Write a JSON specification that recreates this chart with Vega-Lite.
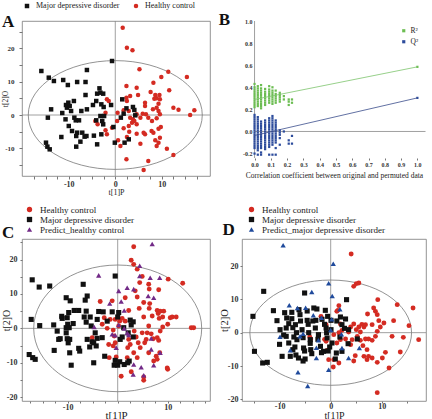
{
"$schema":"https://vega.github.io/schema/vega-lite/v6.json",
"padding":{"left":0,"top":1,"right":0,"bottom":0},
"background":"white",
"columns":2,
"spacing":{"row":63,"column":32},
"bounds":"flush",
"resolve":{"scale":{"color":"independent","shape":"independent","stroke":"independent"},"legend":{"color":"independent","shape":"independent"}},
"config":{
"font":"Liberation Serif",
"view":{"stroke":"#777","strokeWidth":0.8},
"axis":{"grid":false,"domain":false,"labelFont":"Liberation Serif","titleFont":"Liberation Serif","labelFontWeight":"bold","labelColor":"#333","titleColor":"#222","titleFontWeight":"normal","tickColor":"#777","tickSize":2,"labelOverlap":false,"labelFlush":false},
"legend":{"labelFont":"Liberation Serif","labelColor":"#222"}
},
"datasets":{
"A":[
{"x":1.6,"y":26.2,"g":"H"},{"x":2.5,"y":20.2,"g":"H"},{"x":3.7,"y":19.4,"g":"H"},{"x":5.2,"y":13.7,"g":"H"},{"x":11.4,"y":13,"g":"H"},{"x":15.4,"y":11.4,"g":"H"},{"x":8.2,"y":9.7,"g":"H"},{"x":9.9,"y":11.4,"g":"H"},{"x":11.6,"y":7.4,"g":"H"},{"x":2.4,"y":8.7,"g":"H"},{"x":4.6,"y":8.2,"g":"H"},{"x":7.6,"y":6.9,"g":"H"},{"x":8.6,"y":6,"g":"H"},{"x":9.5,"y":6,"g":"H"},{"x":4.9,"y":6,"g":"H"},{"x":2.4,"y":5.2,"g":"H"},{"x":6.4,"y":3.7,"g":"H"},{"x":8.4,"y":4.9,"g":"H"},{"x":8.9,"y":5,"g":"H"},{"x":12.5,"y":2.2,"g":"H"},{"x":13.6,"y":1.6,"g":"H"},{"x":17,"y":1.4,"g":"H"},{"x":16.1,"y":0,"g":"H"},{"x":8.9,"y":2.2,"g":"H"},{"x":9.3,"y":1.2,"g":"H"},{"x":9.6,"y":0.2,"g":"H"},{"x":8.9,"y":-1,"g":"H"},{"x":9.8,"y":-3.6,"g":"H"},{"x":9.3,"y":-4.1,"g":"H"},{"x":7.8,"y":-4.8,"g":"H"},{"x":8.2,"y":-5.3,"g":"H"},{"x":8.6,"y":-7.6,"g":"H"},{"x":9.3,"y":-8.3,"g":"H"},{"x":8.9,"y":-9.3,"g":"H"},{"x":11.1,"y":-10.1,"g":"H"},{"x":12.5,"y":-12,"g":"H"},{"x":9.6,"y":-6.8,"g":"H"},{"x":5.4,"y":-8.6,"g":"H"},{"x":6.4,"y":-5.8,"g":"H"},{"x":6.1,"y":-5.3,"g":"H"},{"x":4.6,"y":-5.6,"g":"H"},{"x":3,"y":-5,"g":"H"},{"x":2.5,"y":-6.6,"g":"H"},{"x":1.1,"y":-9.3,"g":"H"},{"x":0.6,"y":-7.6,"g":"H"},{"x":2.4,"y":-13.3,"g":"H"},{"x":6.1,"y":-16.5,"g":"H"},{"x":7.1,"y":-13.8,"g":"H"},{"x":-1.8,"y":4.7,"g":"H"},{"x":-1.4,"y":4.2,"g":"H"},{"x":-2.1,"y":0.7,"g":"H"},{"x":-4.3,"y":-1.8,"g":"H"},{"x":-3.8,"y":-2.8,"g":"H"},{"x":-2.1,"y":-4.6,"g":"H"},{"x":-1.8,"y":-5.8,"g":"H"},{"x":-0.7,"y":-3.8,"g":"H"},{"x":0.4,"y":-1.8,"g":"H"},{"x":0.5,"y":0.7,"g":"H"},{"x":1.8,"y":1.4,"g":"H"},{"x":2.9,"y":1.2,"g":"H"},{"x":3.2,"y":-0.8,"g":"H"},{"x":3.8,"y":-1.3,"g":"H"},{"x":4.1,"y":-1.8,"g":"H"},{"x":3.6,"y":-2.3,"g":"H"},{"x":1.8,"y":-4,"g":"H"},{"x":2.9,"y":-3.3,"g":"H"},{"x":4.6,"y":-2.8,"g":"H"},{"x":5.4,"y":-0.8,"g":"H"},{"x":5.9,"y":0.4,"g":"H"},{"x":6.6,"y":0.2,"g":"H"},{"x":7.1,"y":-0.8,"g":"H"},{"x":7.9,"y":-1.8,"g":"H"},{"x":6.4,"y":2.7,"g":"H"},{"x":8.1,"y":1.7,"g":"H"},{"x":4.6,"y":0.2,"g":"H"},{"x":9.3,"y":3.4,"g":"H"},{"x":9.6,"y":4.7,"g":"H"},{"x":2.5,"y":4.2,"g":"H"},{"x":3.2,"y":5.7,"g":"H"},
{"x":-15.9,"y":13.2,"g":"M"},{"x":-14.3,"y":11.2,"g":"M"},{"x":-13.2,"y":10.2,"g":"M"},{"x":-11.2,"y":10.5,"g":"M"},{"x":-10.2,"y":9,"g":"M"},{"x":-8.2,"y":9.9,"g":"M"},{"x":-6.1,"y":13.5,"g":"M"},{"x":-6.4,"y":9.9,"g":"M"},{"x":-0.7,"y":16.2,"g":"M"},{"x":-13.8,"y":1.7,"g":"M"},{"x":-14.5,"y":-0.8,"g":"M"},{"x":-14.9,"y":-8.3,"g":"M"},{"x":-14.6,"y":-9.5,"g":"M"},{"x":-14.1,"y":-10.3,"g":"M"},{"x":-11.6,"y":-6.6,"g":"M"},{"x":-11.4,"y":0.6,"g":"M"},{"x":-10.6,"y":3,"g":"M"},{"x":-10.1,"y":3.7,"g":"M"},{"x":-10.4,"y":2.2,"g":"M"},{"x":-9.8,"y":2.7,"g":"M"},{"x":-9.5,"y":1.2,"g":"M"},{"x":-8.9,"y":4.2,"g":"M"},{"x":-10.7,"y":-1.3,"g":"M"},{"x":-10,"y":-3.3,"g":"M"},{"x":-9.3,"y":-4.8,"g":"M"},{"x":-8.8,"y":-0.8,"g":"M"},{"x":-8.5,"y":-1.6,"g":"M"},{"x":-8.2,"y":-5.3,"g":"M"},{"x":-8.4,"y":-6.3,"g":"M"},{"x":-7.8,"y":-1.6,"g":"M"},{"x":-7.3,"y":1.2,"g":"M"},{"x":-7.1,"y":-5.3,"g":"M"},{"x":-6.6,"y":-6.5,"g":"M"},{"x":-6.2,"y":-6.3,"g":"M"},{"x":-7.5,"y":-8,"g":"M"},{"x":-8.4,"y":-9.5,"g":"M"},{"x":-6.4,"y":6,"g":"M"},{"x":-6.1,"y":1.7,"g":"M"},{"x":-4.8,"y":3,"g":"M"},{"x":-4.1,"y":4.2,"g":"M"},{"x":-3.9,"y":6.4,"g":"M"},{"x":-3.2,"y":6.7,"g":"M"},{"x":-2.6,"y":6.4,"g":"M"},{"x":-3.4,"y":8,"g":"M"},{"x":-3,"y":3.2,"g":"M"},{"x":-3.2,"y":-0.3,"g":"M"},{"x":-4.1,"y":-1.6,"g":"M"},{"x":-2.5,"y":2.4,"g":"M"},{"x":-2.4,"y":-0.3,"g":"M"},{"x":-2.8,"y":-1.8,"g":"M"},{"x":-2.6,"y":-2.8,"g":"M"},{"x":-4.6,"y":-6.2,"g":"M"},{"x":-3.9,"y":-8.8,"g":"M"},{"x":-3,"y":-5.8,"g":"M"},{"x":-0.9,"y":3,"g":"M"},{"x":-0.4,"y":-3.6,"g":"M"},{"x":-0.1,"y":-8.3,"g":"M"},{"x":1.2,"y":-0.8,"g":"M"},{"x":1.5,"y":4.7,"g":"M"},{"x":2.4,"y":2,"g":"M"},{"x":2.9,"y":-7.3,"g":"M"},{"x":2,"y":-8.3,"g":"M"},{"x":3.8,"y":2.4,"g":"M"},{"x":4.1,"y":1.5,"g":"M"},{"x":4.3,"y":-0.1,"g":"M"},{"x":1.8,"y":0.4,"g":"M"}
],
"B":[
{"x":0,"y":0.22,"s":"R"},{"x":0,"y":0.24,"s":"R"},{"x":0,"y":0.26,"s":"R"},{"x":0,"y":0.28,"s":"R"},{"x":0,"y":0.30,"s":"R"},{"x":0,"y":0.32,"s":"R"},{"x":0,"y":0.34,"s":"R"},{"x":0,"y":0.36,"s":"R"},{"x":0,"y":0.38,"s":"R"},{"x":0,"y":0.40,"s":"R"},{"x":0,"y":0.43,"s":"R"},
{"x":0.02,"y":0.23,"s":"R"},{"x":0.02,"y":0.25,"s":"R"},{"x":0.02,"y":0.27,"s":"R"},{"x":0.02,"y":0.29,"s":"R"},{"x":0.02,"y":0.31,"s":"R"},{"x":0.02,"y":0.33,"s":"R"},{"x":0.02,"y":0.35,"s":"R"},{"x":0.02,"y":0.37,"s":"R"},{"x":0.02,"y":0.39,"s":"R"},{"x":0.02,"y":0.41,"s":"R"},
{"x":0.04,"y":0.21,"s":"R"},{"x":0.04,"y":0.23,"s":"R"},{"x":0.04,"y":0.25,"s":"R"},{"x":0.04,"y":0.27,"s":"R"},{"x":0.04,"y":0.29,"s":"R"},{"x":0.04,"y":0.31,"s":"R"},{"x":0.04,"y":0.33,"s":"R"},{"x":0.04,"y":0.35,"s":"R"},{"x":0.04,"y":0.37,"s":"R"},{"x":0.04,"y":0.39,"s":"R"},{"x":0.04,"y":0.42,"s":"R"},
{"x":0.065,"y":0.24,"s":"R"},{"x":0.065,"y":0.26,"s":"R"},{"x":0.065,"y":0.28,"s":"R"},{"x":0.065,"y":0.30,"s":"R"},{"x":0.065,"y":0.32,"s":"R"},{"x":0.065,"y":0.34,"s":"R"},{"x":0.065,"y":0.36,"s":"R"},{"x":0.065,"y":0.385,"s":"R"},
{"x":0.09,"y":0.26,"s":"R"},{"x":0.09,"y":0.28,"s":"R"},{"x":0.09,"y":0.30,"s":"R"},{"x":0.09,"y":0.32,"s":"R"},{"x":0.09,"y":0.34,"s":"R"},{"x":0.09,"y":0.36,"s":"R"},{"x":0.09,"y":0.38,"s":"R"},{"x":0.09,"y":0.41,"s":"R"},
{"x":0.11,"y":0.25,"s":"R"},{"x":0.11,"y":0.27,"s":"R"},{"x":0.11,"y":0.29,"s":"R"},{"x":0.11,"y":0.31,"s":"R"},{"x":0.11,"y":0.33,"s":"R"},{"x":0.11,"y":0.35,"s":"R"},{"x":0.11,"y":0.37,"s":"R"},{"x":0.11,"y":0.40,"s":"R"},
{"x":0.13,"y":0.26,"s":"R"},{"x":0.13,"y":0.28,"s":"R"},{"x":0.13,"y":0.30,"s":"R"},{"x":0.13,"y":0.32,"s":"R"},{"x":0.13,"y":0.34,"s":"R"},{"x":0.13,"y":0.37,"s":"R"},
{"x":0.155,"y":0.27,"s":"R"},{"x":0.155,"y":0.29,"s":"R"},{"x":0.155,"y":0.31,"s":"R"},{"x":0.155,"y":0.33,"s":"R"},{"x":0.155,"y":0.35,"s":"R"},
{"x":0.18,"y":0.29,"s":"R"},{"x":0.18,"y":0.32,"s":"R"},{"x":0.21,"y":0.24,"s":"R"},{"x":0.21,"y":0.27,"s":"R"},{"x":0.21,"y":0.29,"s":"R"},{"x":0.23,"y":0.26,"s":"R"},{"x":0.23,"y":0.29,"s":"R"},{"x":1,"y":0.585,"s":"R"},
{"x":0,"y":0.15,"s":"Q"},{"x":0,"y":0.13,"s":"Q"},{"x":0,"y":0.11,"s":"Q"},{"x":0,"y":0.09,"s":"Q"},{"x":0,"y":0.07,"s":"Q"},{"x":0,"y":0.05,"s":"Q"},{"x":0,"y":0.03,"s":"Q"},{"x":0,"y":0.01,"s":"Q"},{"x":0,"y":-0.01,"s":"Q"},{"x":0,"y":-0.03,"s":"Q"},{"x":0,"y":-0.05,"s":"Q"},{"x":0,"y":-0.07,"s":"Q"},{"x":0,"y":-0.09,"s":"Q"},{"x":0,"y":-0.11,"s":"Q"},{"x":0,"y":-0.13,"s":"Q"},{"x":0,"y":-0.15,"s":"Q"},{"x":0,"y":-0.2,"s":"Q"},
{"x":0.02,"y":0.13,"s":"Q"},{"x":0.02,"y":0.11,"s":"Q"},{"x":0.02,"y":0.09,"s":"Q"},{"x":0.02,"y":0.07,"s":"Q"},{"x":0.02,"y":0.05,"s":"Q"},{"x":0.02,"y":0.03,"s":"Q"},{"x":0.02,"y":0.01,"s":"Q"},{"x":0.02,"y":-0.01,"s":"Q"},{"x":0.02,"y":-0.03,"s":"Q"},{"x":0.02,"y":-0.05,"s":"Q"},{"x":0.02,"y":-0.07,"s":"Q"},{"x":0.02,"y":-0.09,"s":"Q"},{"x":0.02,"y":-0.11,"s":"Q"},{"x":0.02,"y":-0.13,"s":"Q"},{"x":0.02,"y":-0.15,"s":"Q"},{"x":0.02,"y":-0.17,"s":"Q"},{"x":0.02,"y":-0.21,"s":"Q"},
{"x":0.04,"y":0.09,"s":"Q"},{"x":0.04,"y":0.07,"s":"Q"},{"x":0.04,"y":0.05,"s":"Q"},{"x":0.04,"y":0.03,"s":"Q"},{"x":0.04,"y":0.01,"s":"Q"},{"x":0.04,"y":-0.01,"s":"Q"},{"x":0.04,"y":-0.03,"s":"Q"},{"x":0.04,"y":-0.05,"s":"Q"},{"x":0.04,"y":-0.07,"s":"Q"},{"x":0.04,"y":-0.09,"s":"Q"},{"x":0.04,"y":-0.11,"s":"Q"},{"x":0.04,"y":-0.13,"s":"Q"},{"x":0.04,"y":-0.15,"s":"Q"},{"x":0.04,"y":-0.19,"s":"Q"},{"x":0.04,"y":-0.21,"s":"Q"},
{"x":0.065,"y":0.10,"s":"Q"},{"x":0.065,"y":0.08,"s":"Q"},{"x":0.065,"y":0.06,"s":"Q"},{"x":0.065,"y":0.04,"s":"Q"},{"x":0.065,"y":0.02,"s":"Q"},{"x":0.065,"y":0,"s":"Q"},{"x":0.065,"y":-0.02,"s":"Q"},{"x":0.065,"y":-0.04,"s":"Q"},{"x":0.065,"y":-0.06,"s":"Q"},{"x":0.065,"y":-0.08,"s":"Q"},{"x":0.065,"y":-0.10,"s":"Q"},{"x":0.065,"y":-0.12,"s":"Q"},{"x":0.065,"y":-0.14,"s":"Q"},{"x":0.065,"y":-0.16,"s":"Q"},
{"x":0.09,"y":0.12,"s":"Q"},{"x":0.09,"y":0.10,"s":"Q"},{"x":0.09,"y":0.08,"s":"Q"},{"x":0.09,"y":0.06,"s":"Q"},{"x":0.09,"y":0.04,"s":"Q"},{"x":0.09,"y":0.02,"s":"Q"},{"x":0.09,"y":0,"s":"Q"},{"x":0.09,"y":-0.02,"s":"Q"},{"x":0.09,"y":-0.04,"s":"Q"},{"x":0.09,"y":-0.06,"s":"Q"},{"x":0.09,"y":-0.08,"s":"Q"},{"x":0.09,"y":-0.10,"s":"Q"},{"x":0.09,"y":-0.12,"s":"Q"},{"x":0.09,"y":-0.14,"s":"Q"},{"x":0.09,"y":-0.21,"s":"Q"},
{"x":0.11,"y":0.14,"s":"Q"},{"x":0.11,"y":0.12,"s":"Q"},{"x":0.11,"y":0.10,"s":"Q"},{"x":0.11,"y":0.08,"s":"Q"},{"x":0.11,"y":0.06,"s":"Q"},{"x":0.11,"y":0.04,"s":"Q"},{"x":0.11,"y":0.02,"s":"Q"},{"x":0.11,"y":0,"s":"Q"},{"x":0.11,"y":-0.02,"s":"Q"},{"x":0.11,"y":-0.04,"s":"Q"},{"x":0.11,"y":-0.06,"s":"Q"},{"x":0.11,"y":-0.08,"s":"Q"},{"x":0.11,"y":-0.10,"s":"Q"},{"x":0.11,"y":-0.12,"s":"Q"},{"x":0.11,"y":-0.21,"s":"Q"},
{"x":0.13,"y":0.10,"s":"Q"},{"x":0.13,"y":0.08,"s":"Q"},{"x":0.13,"y":0.06,"s":"Q"},{"x":0.13,"y":0.04,"s":"Q"},{"x":0.13,"y":0.02,"s":"Q"},{"x":0.13,"y":0,"s":"Q"},{"x":0.13,"y":-0.02,"s":"Q"},{"x":0.13,"y":-0.04,"s":"Q"},{"x":0.13,"y":-0.06,"s":"Q"},{"x":0.13,"y":-0.08,"s":"Q"},{"x":0.13,"y":-0.10,"s":"Q"},{"x":0.13,"y":-0.15,"s":"Q"},{"x":0.13,"y":-0.21,"s":"Q"},
{"x":0.155,"y":0.01,"s":"Q"},{"x":0.155,"y":-0.01,"s":"Q"},{"x":0.155,"y":-0.03,"s":"Q"},{"x":0.155,"y":-0.06,"s":"Q"},{"x":0.155,"y":-0.12,"s":"Q"},{"x":0.18,"y":0,"s":"Q"},{"x":0.21,"y":-0.08,"s":"Q"},{"x":0.21,"y":-0.11,"s":"Q"},{"x":0.23,"y":-0.04,"s":"Q"},{"x":0.23,"y":-0.11,"s":"Q"},{"x":1,"y":0.304,"s":"Q"}
],
"BL":[{"x":0,"y":0.29,"s":"r"},{"x":1,"y":0.585,"s":"r"},{"x":0,"y":-0.036,"s":"q"},{"x":1,"y":0.304,"s":"q"}],
"C":[
{"x":3.2,"y":23.7,"g":"H"},{"x":2.7,"y":19.8,"g":"H"},{"x":3.2,"y":18.6,"g":"H"},{"x":3.9,"y":17.2,"g":"H"},{"x":4.9,"y":15.1,"g":"H"},{"x":4.4,"y":13.3,"g":"H"},{"x":6.2,"y":12.8,"g":"H"},{"x":8.2,"y":11.2,"g":"H"},{"x":10.1,"y":14.3,"g":"H"},{"x":13,"y":13.1,"g":"H"},{"x":6.3,"y":11.4,"g":"H"},{"x":3.5,"y":10.9,"g":"H"},{"x":3.9,"y":9.1,"g":"H"},{"x":1.5,"y":8.9,"g":"H"},{"x":5.2,"y":7.5,"g":"H"},{"x":6.4,"y":7.2,"g":"H"},{"x":7.9,"y":5.2,"g":"H"},{"x":8.1,"y":4.3,"g":"H"},{"x":8.5,"y":5,"g":"H"},{"x":4.3,"y":5.8,"g":"H"},{"x":6.3,"y":5.8,"g":"H"},{"x":2.2,"y":5.2,"g":"H"},{"x":5.2,"y":3.3,"g":"H"},{"x":6.9,"y":3.6,"g":"H"},{"x":8.3,"y":2.9,"g":"H"},{"x":10.5,"y":3.1,"g":"H"},{"x":11.7,"y":3.3,"g":"H"},{"x":14.7,"y":0.2,"g":"H"},{"x":15.2,"y":0.2,"g":"H"},{"x":10,"y":1.2,"g":"H"},{"x":9,"y":0.4,"g":"H"},{"x":-3.5,"y":7.8,"g":"H"},{"x":-2.7,"y":3.1,"g":"H"},{"x":-2.1,"y":0,"g":"H"},{"x":-3.1,"y":1.2,"g":"H"},{"x":-5.1,"y":-2.7,"g":"H"},{"x":-1.5,"y":2.6,"g":"H"},{"x":-0.9,"y":-0.5,"g":"H"},{"x":-0.5,"y":2.6,"g":"H"},{"x":0.4,"y":2.1,"g":"H"},{"x":0.9,"y":2.9,"g":"H"},{"x":1.5,"y":2.1,"g":"H"},{"x":0.2,"y":0.7,"g":"H"},{"x":-0.7,"y":-2.2,"g":"H"},{"x":-1.8,"y":-4.7,"g":"H"},{"x":-0.9,"y":-5.1,"g":"H"},{"x":-1.7,"y":-8.5,"g":"H"},{"x":-0.3,"y":-8.3,"g":"H"},{"x":0.7,"y":-13.9,"g":"H"},{"x":2,"y":-5.6,"g":"H"},{"x":2.5,"y":-4.7,"g":"H"},{"x":2.2,"y":-3.2,"g":"H"},{"x":3.3,"y":-0.8,"g":"H"},{"x":3.7,"y":-2.5,"g":"H"},{"x":4.1,"y":-4.2,"g":"H"},{"x":3.2,"y":-7.1,"g":"H"},{"x":3.9,"y":-8.5,"g":"H"},{"x":4.5,"y":-5.6,"g":"H"},{"x":5.4,"y":-4.2,"g":"H"},{"x":4.9,"y":-1.3,"g":"H"},{"x":5.9,"y":-1.3,"g":"H"},{"x":6.7,"y":-1.6,"g":"H"},{"x":7.1,"y":-3,"g":"H"},{"x":6.2,"y":-7.1,"g":"H"},{"x":7.9,"y":-2.7,"g":"H"},{"x":8.2,"y":-3.5,"g":"H"},{"x":7.7,"y":-8.1,"g":"H"},{"x":8.4,"y":-7.1,"g":"H"},{"x":7.9,"y":-9,"g":"H"},{"x":9.9,"y":-11.5,"g":"H"},{"x":10,"y":-11.9,"g":"H"},{"x":5.2,"y":-15.1,"g":"H"},{"x":5.2,"y":-14.1,"g":"H"},{"x":2.7,"y":-12.6,"g":"H"},{"x":8.5,"y":-0.8,"g":"H"},{"x":9,"y":3.3,"g":"H"},{"x":6.2,"y":0.7,"g":"H"},{"x":9.2,"y":5,"g":"H"},{"x":10.9,"y":3.3,"g":"H"},{"x":-1.1,"y":8,"g":"H"},{"x":7.2,"y":-9.5,"g":"H"},{"x":5.7,"y":-3.2,"g":"H"},{"x":1.9,"y":-8.5,"g":"H"},{"x":-0.5,"y":-4.2,"g":"H"},
{"x":-17.1,"y":14.1,"g":"M"},{"x":-15.7,"y":12,"g":"M"},{"x":-13.6,"y":12.3,"g":"M"},{"x":-17.3,"y":2.6,"g":"M"},{"x":-15.6,"y":0.8,"g":"M"},{"x":-17.7,"y":-7.6,"g":"M"},{"x":-17,"y":-8.5,"g":"M"},{"x":-16.5,"y":-9,"g":"M"},{"x":-12.8,"y":1,"g":"M"},{"x":-12.7,"y":-6.4,"g":"M"},{"x":-12.1,"y":-0.8,"g":"M"},{"x":-11.8,"y":-3.2,"g":"M"},{"x":-11.2,"y":3.5,"g":"M"},{"x":-11.1,"y":2.9,"g":"M"},{"x":-11.5,"y":-3,"g":"M"},{"x":-10.3,"y":8.9,"g":"M"},{"x":-9.5,"y":8,"g":"M"},{"x":-10.1,"y":3.1,"g":"M"},{"x":-9.8,"y":4.6,"g":"M"},{"x":-10,"y":1.2,"g":"M"},{"x":-10.3,"y":0.2,"g":"M"},{"x":-9.7,"y":0.2,"g":"M"},{"x":-10.3,"y":-1.3,"g":"M"},{"x":-10.1,"y":-3,"g":"M"},{"x":-9.6,"y":-3.2,"g":"M"},{"x":-9.9,"y":-4.2,"g":"M"},{"x":-9.6,"y":-7.1,"g":"M"},{"x":-9.3,"y":-10.7,"g":"M"},{"x":-8.9,"y":1.4,"g":"M"},{"x":-8.7,"y":5.2,"g":"M"},{"x":-7.8,"y":5.2,"g":"M"},{"x":-7.8,"y":-5.8,"g":"M"},{"x":-7.6,"y":-6.6,"g":"M"},{"x":-6.9,"y":12.8,"g":"M"},{"x":-6.5,"y":8.2,"g":"M"},{"x":-6.1,"y":9.4,"g":"M"},{"x":-6.3,"y":5,"g":"M"},{"x":-6.7,"y":3.3,"g":"M"},{"x":-6.3,"y":1.8,"g":"M"},{"x":-6.1,"y":-3.2,"g":"M"},{"x":-5.6,"y":-5.4,"g":"M"},{"x":-5.5,"y":3.3,"g":"M"},{"x":-5.3,"y":0.7,"g":"M"},{"x":-5.1,"y":-3.9,"g":"M"},{"x":-4.8,"y":-4.2,"g":"M"},{"x":-4.5,"y":-1.3,"g":"M"},{"x":-4.8,"y":-10,"g":"M"},{"x":-4.3,"y":-5.1,"g":"M"},{"x":-4.1,"y":-2.9,"g":"M"},{"x":-4.1,"y":2.6,"g":"M"},{"x":-3.8,"y":4.9,"g":"M"},{"x":-3.1,"y":-2.7,"g":"M"},{"x":-2.9,"y":4.8,"g":"M"},{"x":-2.6,"y":-8.1,"g":"M"},{"x":-2.1,"y":2.1,"g":"M"},{"x":-1.1,"y":4.8,"g":"M"},{"x":-0.5,"y":15.2,"g":"M"},{"x":0.2,"y":4.6,"g":"M"},{"x":0,"y":3.3,"g":"M"},{"x":-0.5,"y":-9.3,"g":"M"},{"x":-0.7,"y":-10.7,"g":"M"},{"x":0,"y":-10.7,"g":"M"},{"x":0.4,"y":-9.7,"g":"M"},{"x":0.9,"y":-2.5,"g":"M"},{"x":0.5,"y":-3.2,"g":"M"},{"x":1.3,"y":-10.5,"g":"M"},{"x":2,"y":-10,"g":"M"},{"x":2.3,"y":-9.5,"g":"M"},{"x":2.5,"y":2.4,"g":"M"},{"x":2.7,"y":1,"g":"M"},{"x":3.1,"y":1.9,"g":"M"},{"x":2.1,"y":-1.3,"g":"M"},{"x":3.1,"y":-2.5,"g":"M"},{"x":1.2,"y":0.2,"g":"M"},
{"x":6.9,"y":24.5,"g":"P"},{"x":4.4,"y":18.2,"g":"P"},{"x":-3.8,"y":15.4,"g":"P"},{"x":0.2,"y":10.9,"g":"P"},{"x":1.9,"y":11.8,"g":"P"},{"x":3.2,"y":11.4,"g":"P"},{"x":4.4,"y":15.2,"g":"P"},{"x":6.5,"y":14.7,"g":"P"},{"x":8.4,"y":14.7,"g":"P"},{"x":6.1,"y":9.4,"g":"P"},{"x":7.2,"y":8.9,"g":"P"},{"x":0.7,"y":7.8,"g":"P"},{"x":-1.6,"y":7.2,"g":"P"},{"x":1.3,"y":5.2,"g":"P"},{"x":-4.7,"y":0.4,"g":"P"},{"x":-1.1,"y":-1.7,"g":"P"},{"x":-0.5,"y":-2,"g":"P"},{"x":1.3,"y":0,"g":"P"},{"x":1.9,"y":-1.3,"g":"P"},{"x":-0.3,"y":-5.6,"g":"P"},{"x":6.7,"y":-6.1,"g":"P"},{"x":8.5,"y":-7.1,"g":"P"},{"x":6.7,"y":-2.9,"g":"P"},{"x":3.2,"y":-10.5,"g":"P"},{"x":4.7,"y":-11.3,"g":"P"},{"x":7.2,"y":-10.7,"g":"P"},{"x":3.1,"y":-13.4,"g":"P"},{"x":5.2,"y":-13.6,"g":"P"},{"x":2.2,"y":-1.9,"g":"P"},{"x":0.2,"y":1,"g":"P"}
],
"D":[
{"x":4,"y":23.6,"g":"H"},{"x":4.5,"y":13.9,"g":"H"},{"x":5,"y":14.7,"g":"H"},{"x":5.5,"y":14.9,"g":"H"},{"x":9.2,"y":9.9,"g":"H"},{"x":13,"y":8.4,"g":"H"},{"x":16.1,"y":7.4,"g":"H"},{"x":8.4,"y":7.4,"g":"H"},{"x":8.75,"y":6.4,"g":"H"},{"x":9.1,"y":5.4,"g":"H"},{"x":7.2,"y":5.6,"g":"H"},{"x":9.4,"y":3.6,"g":"H"},{"x":10.4,"y":2.9,"g":"H"},{"x":8.1,"y":2.4,"g":"H"},{"x":15.3,"y":2.1,"g":"H"},{"x":6.1,"y":2.5,"g":"H"},{"x":6.5,"y":1.7,"g":"H"},{"x":6.8,"y":2.4,"g":"H"},{"x":4.5,"y":2.6,"g":"H"},{"x":5.5,"y":1.7,"g":"H"},{"x":5,"y":0.9,"g":"H"},{"x":3.9,"y":1.7,"g":"H"},{"x":1.6,"y":8.1,"g":"H"},{"x":1.2,"y":6.4,"g":"H"},{"x":1.9,"y":2.6,"g":"H"},{"x":9.1,"y":0.4,"g":"H"},{"x":8.75,"y":-1.1,"g":"H"},{"x":8.1,"y":-2.3,"g":"H"},{"x":12,"y":-1.1,"g":"H"},{"x":14.2,"y":-1.4,"g":"H"},{"x":17.2,"y":-2.1,"g":"H"},{"x":13.6,"y":-5.8,"g":"H"},{"x":10.7,"y":-5.9,"g":"H"},{"x":11.4,"y":-10.6,"g":"H"},{"x":9.1,"y":-8.9,"g":"H"},{"x":10.1,"y":-7.6,"g":"H"},{"x":8.1,"y":-7.6,"g":"H"},{"x":7.4,"y":-7.1,"g":"H"},{"x":6.5,"y":-7.1,"g":"H"},{"x":4.8,"y":-6.9,"g":"H"},{"x":7.1,"y":-5.1,"g":"H"},{"x":6.3,"y":-3.9,"g":"H"},{"x":5.8,"y":-2.3,"g":"H"},{"x":6.8,"y":-1.9,"g":"H"},{"x":7.4,"y":-1.9,"g":"H"},{"x":4.2,"y":-2.1,"g":"H"},{"x":3.9,"y":-3.6,"g":"H"},{"x":2.9,"y":-1.9,"g":"H"},{"x":1.9,"y":-2.1,"g":"H"},{"x":1.2,"y":-3.1,"g":"H"},{"x":0.6,"y":-0.6,"g":"H"},{"x":2.2,"y":0.7,"g":"H"},{"x":1.6,"y":0,"g":"H"},{"x":4.5,"y":-8.5,"g":"H"},{"x":7.1,"y":-8.1,"g":"H"},{"x":9.1,"y":-18,"g":"H"},{"x":1.6,"y":-9.1,"g":"H"},{"x":0.6,"y":-8.1,"g":"H"},{"x":3.5,"y":0.2,"g":"H"},{"x":5.8,"y":0.2,"g":"H"},{"x":9.7,"y":1.7,"g":"H"},{"x":12.3,"y":3.6,"g":"H"},{"x":5.2,"y":-1.1,"g":"H"},{"x":-1.9,"y":4.9,"g":"H"},{"x":-0.9,"y":2.4,"g":"H"},{"x":-4.1,"y":-1.3,"g":"H"},{"x":-3.9,"y":-1.9,"g":"H"},{"x":-0.9,"y":-2.6,"g":"H"},{"x":-0.7,"y":-5.3,"g":"H"},{"x":-0.4,"y":-8.1,"g":"H"},{"x":-1.2,"y":-2,"g":"H"},{"x":0.5,"y":-10.3,"g":"H"},{"x":1.4,"y":6.7,"g":"H"},
{"x":-15.2,"y":4.9,"g":"M"},{"x":-14.9,"y":-5.6,"g":"M"},{"x":-13.1,"y":12.4,"g":"M"},{"x":-13.3,"y":-9.1,"g":"M"},{"x":-12.4,"y":-8.9,"g":"M"},{"x":-11.2,"y":6.6,"g":"M"},{"x":-10.5,"y":3.6,"g":"M"},{"x":-9.9,"y":0.9,"g":"M"},{"x":-9.5,"y":-7.1,"g":"M"},{"x":-8.6,"y":4.4,"g":"M"},{"x":-8.7,"y":1.4,"g":"M"},{"x":-8.7,"y":-1.1,"g":"M"},{"x":-8.2,"y":-3.1,"g":"M"},{"x":-7.9,"y":-7.1,"g":"M"},{"x":-7.6,"y":6.1,"g":"M"},{"x":-7.4,"y":-5.1,"g":"M"},{"x":-6.9,"y":2.4,"g":"M"},{"x":-6.7,"y":0,"g":"M"},{"x":-6.6,"y":-2.1,"g":"M"},{"x":-6.3,"y":-7.6,"g":"M"},{"x":-6,"y":5.4,"g":"M"},{"x":-5.6,"y":0.9,"g":"M"},{"x":-5.3,"y":-4.6,"g":"M"},{"x":-5,"y":-7.9,"g":"M"},{"x":-5.1,"y":11.9,"g":"M"},{"x":-4.6,"y":3.7,"g":"M"},{"x":-4.3,"y":0,"g":"M"},{"x":-4,"y":-2.1,"g":"M"},{"x":-3.9,"y":-5.1,"g":"M"},{"x":-3.3,"y":7.4,"g":"M"},{"x":-3,"y":1.4,"g":"M"},{"x":-2.9,"y":3.7,"g":"M"},{"x":-2.7,"y":7.1,"g":"M"},{"x":-2.4,"y":-0.6,"g":"M"},{"x":-2,"y":-4.1,"g":"M"},{"x":-1.7,"y":4,"g":"M"},{"x":-1.4,"y":-5.6,"g":"M"},{"x":-1.05,"y":6.7,"g":"M"},{"x":-0.9,"y":1.4,"g":"M"},{"x":-0.7,"y":-1.6,"g":"M"},{"x":-0.6,"y":4.9,"g":"M"},{"x":-0.2,"y":-4.3,"g":"M"},{"x":-9,"y":6,"g":"M"},{"x":-7.6,"y":4.2,"g":"M"},{"x":-7.4,"y":1.5,"g":"M"},{"x":-7.2,"y":-1.3,"g":"M"},{"x":-7,"y":-4.3,"g":"M"},{"x":-6.8,"y":-6.7,"g":"M"},{"x":-6.2,"y":6.9,"g":"M"},{"x":-5.9,"y":3.5,"g":"M"},{"x":-5.4,"y":-1.5,"g":"M"},{"x":-5.4,"y":-8.5,"g":"M"},{"x":-5.1,"y":-5.5,"g":"M"},{"x":-4.6,"y":6.5,"g":"M"},{"x":-4.4,"y":2.5,"g":"M"},{"x":-4,"y":-3.2,"g":"M"},{"x":-3.7,"y":-6.3,"g":"M"},{"x":-3.5,"y":3.5,"g":"M"},{"x":-2.5,"y":-2,"g":"M"},{"x":-1.8,"y":-6,"g":"M"},{"x":-1.2,"y":2.5,"g":"M"},{"x":-0.8,"y":0,"g":"M"},{"x":-0.5,"y":-5.5,"g":"M"},{"x":1.2,"y":3.5,"g":"M"},{"x":2.7,"y":1.3,"g":"M"},{"x":3.4,"y":-3.3,"g":"M"},{"x":1.8,"y":-1.3,"g":"M"},{"x":-10,"y":-3.5,"g":"M"},{"x":-9.2,"y":-0.7,"g":"M"},{"x":-8.2,"y":2.7,"g":"M"},{"x":3.1,"y":9.9,"g":"M"},{"x":1.9,"y":4.7,"g":"M"},{"x":2.9,"y":4.1,"g":"M"},{"x":2.2,"y":2.4,"g":"M"},{"x":0.06,"y":3.7,"g":"M"},{"x":3.5,"y":0.9,"g":"M"},{"x":5.2,"y":-1.9,"g":"M"},{"x":0.25,"y":-3.1,"g":"M"},{"x":2.2,"y":-5.6,"g":"M"},{"x":1.1,"y":-6.1,"g":"M"},{"x":0.9,"y":-7.9,"g":"M"},{"x":0.06,"y":0.9,"g":"M"},
{"x":-9.3,"y":26.2,"g":"P"},{"x":0.5,"y":20.7,"g":"P"},{"x":-0.4,"y":14.8,"g":"P"},{"x":0.3,"y":11,"g":"P"},{"x":-3.7,"y":12.2,"g":"P"},{"x":1.8,"y":7,"g":"P"},{"x":-8.1,"y":8.2,"g":"P"},{"x":-6.5,"y":7.4,"g":"P"},{"x":-4.9,"y":7.5,"g":"P"},{"x":-3.4,"y":5.2,"g":"P"},{"x":-1.8,"y":4.5,"g":"P"},{"x":-9.9,"y":-1.2,"g":"P"},{"x":-6,"y":-1.1,"g":"P"},{"x":-5.4,"y":-0.3,"g":"P"},{"x":-2.4,"y":-2.3,"g":"P"},{"x":-2.8,"y":-4.5,"g":"P"},{"x":0,"y":0.8,"g":"P"},{"x":0.2,"y":4,"g":"P"},{"x":-7.9,"y":-5.3,"g":"P"},{"x":-2.8,"y":-7.6,"g":"P"},{"x":2.2,"y":-4.6,"g":"P"},{"x":3.5,"y":-7.6,"g":"P"},{"x":5.6,"y":-4.6,"g":"P"},{"x":-6.4,"y":-11.9,"g":"P"},{"x":-0.4,"y":-11.1,"g":"P"},{"x":-4.5,"y":-16,"g":"P"},{"x":2.1,"y":-0.5,"g":"P"}
]
},
"concat":[
{
"width":188,"height":155,
"title":{"text":"A","anchor":"start","frame":"group","dx":-20,"dy":29,"offset":0,"fontSize":17,"fontWeight":"bold","font":"Liberation Serif","color":"#111"},
"layer":[
{"data":{"values":[{}]},"mark":{"type":"rule","color":"#888","strokeWidth":0.8},"encoding":{"y":{"datum":0}}},
{"data":{"values":[{}]},"mark":{"type":"rule","color":"#888","strokeWidth":0.8},"encoding":{"x":{"datum":0}}},
{"data":{"values":[{}]},"mark":{"type":"point","filled":false,"color":"#777","strokeWidth":0.8,"opacity":1},"encoding":{"x":{"datum":0},"y":{"datum":0},"shape":{"value":"M1,0C1,0.345 0.552,0.625 0,0.625C-0.552,0.625 -1,0.345 -1,0C-1,-0.345 -0.552,-0.625 0,-0.625C0.552,-0.625 1,-0.345 1,0Z"},"size":{"value":30276}}},
{"data":{"name":"A"},"mark":{"type":"point","filled":true,"opacity":1,"size":20},
"encoding":{
"x":{"field":"x","type":"quantitative","scale":{"domain":[-20.06,20.37],"nice":false,"zero":false},"axis":{"title":"t[1]P","titleFontSize":8,"labelFontSize":8,"labelOverlap":false,"tickCount":100,"values":[-17.5,-15,-12.5,-10,-7.5,-5,-2.5,0,2.5,5,7.5,10,12.5,15,17.5],"labelExpr":"datum.value % 10 === 0 ? '' + datum.value : ''","tickSize":3,"labelPadding":1,"titlePadding":0}},
"y":{"field":"y","type":"quantitative","scale":{"domain":[-18.3,28.2],"nice":false,"zero":false},"axis":{"title":"t[2]O","titleFontSize":7.5,"labelFontSize":7,"labelOverlap":false,"tickCount":100,"values":[-15,-10,-5,0,5,10,15,20,25],"labelExpr":"datum.value % 10 === 0 ? '' + datum.value : ''","tickSize":3,"labelPadding":5,"titlePadding":-4.5}},
"color":{"field":"g","type":"nominal","scale":{"domain":["M","H"],"range":["#111111","#d42b22"]},"legend":{"title":null,"orient":"none","legendX":1,"legendY":-19,"direction":"horizontal","labelFontSize":8,"symbolSize":20,"labelOffset":5,"columnPadding":12,"labelExpr":"datum.label == 'M' ? 'Major depressive disorder' : 'Healthy control'"}},
"shape":{"field":"g","type":"nominal","scale":{"domain":["M","H"],"range":["square","circle"]},"legend":{"title":null,"orient":"none","legendX":1,"legendY":-19,"direction":"horizontal","labelFontSize":8,"symbolSize":20,"labelOffset":5,"columnPadding":12,"labelExpr":"datum.label == 'M' ? 'Major depressive disorder' : 'Healthy control'"}}
}}
]
},
{
"width":184,"height":137,
"view":{"stroke":null},
"title":{"text":"B","anchor":"start","frame":"group","dx":-23.3,"dy":11,"offset":0,"fontSize":17,"fontWeight":"bold","font":"Liberation Serif","color":"#111"},
"layer":[
{"data":{"values":[{}]},"mark":{"type":"rule","color":"#888","strokeWidth":0.8},"encoding":{"x":{"datum":0}}},
{"data":{"values":[{}]},"mark":{"type":"rule","color":"#888","strokeWidth":0.8},"encoding":{"y":{"datum":0},"x":{"datum":0},"x2":{"datum":1.05}}},
{"data":{"name":"B"},"mark":{"type":"point","filled":true,"opacity":1,"size":5},
"encoding":{
"x":{"field":"x","type":"quantitative","scale":{"domain":[-0.077,1.053],"nice":false,"zero":false},"axis":{"title":"Correlation coefficient between original and permuted data","titleFontSize":7.5,"labelFontSize":6,"labelOverlap":false,"tickCount":100,"values":[0,0.1,0.2,0.3,0.4,0.5,0.6,0.7,0.8,0.9,1],"format":".1f","tickSize":2,"labelPadding":1,"titlePadding":4}},
"y":{"field":"y","type":"quantitative","scale":{"domain":[-0.24,1.0],"nice":false,"zero":false},"axis":{"title":null,"labelFontSize":6,"labelOverlap":false,"tickCount":100,"values":[-0.2,0,0.2,0.4,0.6,0.8,1.0],"labelExpr":"replace(datum.label, '−', '-')","format":".1f","offset":-12,"ticks":false,"labelPadding":2}},
"color":{"field":"s","type":"nominal","scale":{"domain":["R","Q"],"range":["#6cbd52","#2d4c9c"]},"legend":{"title":null,"orient":"none","legendX":158,"legendY":6,"labelFontSize":7.5,"symbolSize":10,"labelOffset":3,"rowPadding":2,"labelExpr":"datum.label == 'R' ? 'R²' : 'Q²'"}},
"shape":{"field":"s","type":"nominal","scale":{"domain":["R","Q"],"range":["square","square"]},"legend":{"title":null,"orient":"none","legendX":158,"legendY":6,"labelFontSize":7.5,"symbolSize":10,"labelOffset":3,"rowPadding":2,"labelExpr":"datum.label == 'R' ? 'R²' : 'Q²'"}}
}},
{"data":{"name":"BL"},"mark":{"type":"line","strokeWidth":0.8},"encoding":{"x":{"field":"x","type":"quantitative"},"y":{"field":"y","type":"quantitative"},"stroke":{"field":"s","type":"nominal","scale":{"domain":["r","q"],"range":["#7cc46c","#3a4c8c"]},"legend":null}}}
]
},
{
"width":188,"height":162,
"title":{"text":"C","anchor":"start","frame":"group","dx":-20,"dy":37,"offset":0,"fontSize":17,"fontWeight":"bold","font":"Liberation Serif","color":"#111"},
"layer":[
{"data":{"values":[{}]},"mark":{"type":"rule","color":"#888","strokeWidth":0.8},"encoding":{"y":{"datum":0}}},
{"data":{"values":[{}]},"mark":{"type":"rule","color":"#888","strokeWidth":0.8},"encoding":{"x":{"datum":0}}},
{"data":{"values":[{}]},"mark":{"type":"point","filled":false,"color":"#777","strokeWidth":0.8,"opacity":1},"encoding":{"x":{"datum":0},"y":{"datum":0},"shape":{"value":"M1,0C1,0.416 0.552,0.754 0,0.754C-0.552,0.754 -1,0.416 -1,0C-1,-0.416 -0.552,-0.754 0,-0.754C0.552,-0.754 1,-0.416 1,0Z"},"size":{"value":28224}}},
{"data":{"name":"C"},"mark":{"type":"point","filled":true,"opacity":1},
"encoding":{
"x":{"field":"x","type":"quantitative","scale":{"domain":[-19.14,18.46],"nice":false,"zero":false},"axis":{"title":"t[1]P","titleFontSize":11,"labelFontSize":8,"labelOverlap":false,"tickCount":100,"values":[-17.5,-15,-12.5,-10,-7.5,-5,-2.5,0,2.5,5,7.5,10,12.5,15,17.5],"labelExpr":"datum.value === 10 || datum.value === -10 ? '' + datum.value : ''","tickSize":2,"labelPadding":0,"titlePadding":-2}},
"y":{"field":"y","type":"quantitative","scale":{"domain":[-21.1,25.96],"nice":false,"zero":false},"axis":{"title":"t[2]O","titleFontSize":10,"labelFontSize":8,"labelOverlap":false,"tickCount":100,"values":[-20,-15,-10,-5,0,5,10,15,20,25],"labelExpr":"datum.value % 10 === 0 ? '' + datum.value : ''","tickSize":2,"labelPadding":3,"titlePadding":-5}},
"size":{"field":"g","type":"nominal","scale":{"domain":["H","M","P"],"range":[24,28,32]},"legend":null},
"color":{"field":"g","type":"nominal","scale":{"domain":["H","M","P"],"range":["#d42b22","#111111","#722a87"]},"legend":{"title":null,"orient":"none","legendX":3,"legendY":-34,"labelFontSize":9,"symbolSize":28,"labelOffset":6,"rowPadding":-0.5,"labelExpr":"datum.label == 'H' ? 'Healthy control' : datum.label == 'M' ? 'Major depressive disorder' : 'Predict_healthy control'"}},
"shape":{"field":"g","type":"nominal","scale":{"domain":["H","M","P"],"range":["circle","square","triangle-up"]},"legend":{"title":null,"orient":"none","legendX":3,"legendY":-34,"labelFontSize":9,"symbolSize":28,"labelOffset":6,"rowPadding":-0.5,"labelExpr":"datum.label == 'H' ? 'Healthy control' : datum.label == 'M' ? 'Major depressive disorder' : 'Predict_healthy control'"}}
}}
]
},
{
"width":184,"height":162,
"title":{"text":"D","anchor":"start","frame":"group","dx":-19.5,"dy":34,"offset":0,"fontSize":17,"fontWeight":"bold","font":"Liberation Serif","color":"#111"},
"layer":[
{"data":{"values":[{}]},"mark":{"type":"rule","color":"#888","strokeWidth":0.8},"encoding":{"y":{"datum":0}}},
{"data":{"values":[{}]},"mark":{"type":"rule","color":"#888","strokeWidth":0.8},"encoding":{"x":{"datum":0}}},
{"data":{"values":[{}]},"mark":{"type":"point","filled":false,"color":"#777","strokeWidth":0.8,"opacity":1},"encoding":{"x":{"datum":0},"y":{"datum":0},"shape":{"value":"M1,0C1,0.36 0.552,0.651 0,0.651C-0.552,0.651 -1,0.36 -1,0C-1,-0.36 -0.552,-0.651 0,-0.651C0.552,-0.651 1,-0.36 1,0Z"},"size":{"value":26147}}},
{"data":{"name":"D"},"mark":{"type":"point","filled":true,"opacity":1},
"encoding":{
"x":{"field":"x","type":"quantitative","scale":{"domain":[-17.34,18.63],"nice":false,"zero":false},"axis":{"title":"t[1]P","titleFontSize":10,"labelFontSize":8,"labelOverlap":false,"tickCount":100,"values":[-15,-10,-5,0,5,10,15],"labelExpr":"datum.value % 10 === 0 ? '' + datum.value : ''","tickSize":2,"labelPadding":-1,"titlePadding":0}},
"y":{"field":"y","type":"quantitative","scale":{"domain":[-20.5,28.1],"nice":false,"zero":false},"axis":{"title":"t[2]O","titleFontSize":10.5,"labelFontSize":8,"labelOverlap":false,"tickCount":100,"values":[-20,-10,0,10,20],"labelExpr":"'' + datum.value","tickSize":2,"labelPadding":2,"titlePadding":-2}},
"size":{"field":"g","type":"nominal","scale":{"domain":["H","M","P"],"range":[20,25,32]},"legend":null},
"color":{"field":"g","type":"nominal","scale":{"domain":["H","M","P"],"range":["#d42b22","#111111","#1f4a9c"]},"legend":{"title":null,"orient":"none","legendX":5,"legendY":-34,"labelFontSize":9,"symbolSize":28,"labelOffset":6,"rowPadding":-0.5,"labelExpr":"datum.label == 'H' ? 'Healthy control' : datum.label == 'M' ? 'Major depressive disorder' : 'Predict_major depressive disorder'"}},
"shape":{"field":"g","type":"nominal","scale":{"domain":["H","M","P"],"range":["circle","square","triangle-up"]},"legend":{"title":null,"orient":"none","legendX":5,"legendY":-34,"labelFontSize":9,"symbolSize":28,"labelOffset":6,"rowPadding":-0.5,"labelExpr":"datum.label == 'H' ? 'Healthy control' : datum.label == 'M' ? 'Major depressive disorder' : 'Predict_major depressive disorder'"}}
}}
]
}
]
}
